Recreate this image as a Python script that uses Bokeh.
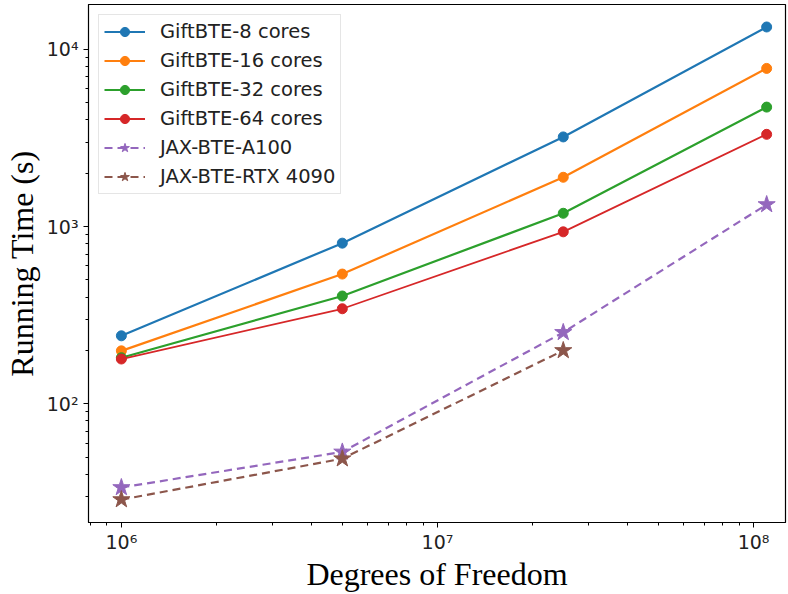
from bokeh.plotting import figure
from bokeh.models import Range1d, Legend, LegendItem, CustomJSTickFormatter, LogTicker
from bokeh.embed import file_html
from bokeh.resources import INLINE

dof = [1e6, 5e6, 2.5e7, 1.1e8]
gift_8 = [242, 807, 3210, 13400]
gift_16 = [199, 540, 1900, 7820]
gift_32 = [182, 406, 1190, 4730]
gift_64 = [179, 344, 935, 3320]
jax_a100 = [33.7, 53.5, 253, 1333]
dof_4090 = [1e6, 5e6, 2.5e7]
jax_4090 = [28.8, 49, 200]

names = ["GiftBTE-8 cores", "GiftBTE-16 cores", "GiftBTE-32 cores", "GiftBTE-64 cores",
         "JAX-BTE-A100", "JAX-BTE-RTX 4090"]
colors = ["#1f77b4", "#ff7f0e", "#2ca02c", "#d62728", "#9467bd", "#8c564b"]

p = figure(x_axis_type="log", y_axis_type="log",
           x_range=Range1d(10 ** 5.896, 10 ** 8.101),
           y_range=Range1d(10 ** 1.330, 10 ** 4.254),
           width=788, height=594,
           min_border_left=88, min_border_right=3, min_border_top=4, min_border_bottom=71,
           output_backend="svg", toolbar_location=None)

p.background_fill_color = "white"
p.border_fill_color = "white"
p.outline_line_color = "black"
p.outline_line_width = 1.2
p.xgrid.visible = False
p.ygrid.visible = False

fmt = CustomJSTickFormatter(code="""
const sup = {'0':'\u2070','1':'\u00b9','2':'\u00b2','3':'\u00b3','4':'\u2074','5':'\u2075','6':'\u2076','7':'\u2077','8':'\u2078','9':'\u2079','-':'\u207b'};
const e = Math.round(Math.log10(tick));
return '10' + String(e).split('').map(c => sup[c]).join('');
""")

for ax in (p.xaxis[0], p.yaxis[0]):
    ax.formatter = fmt
    ax.ticker = LogTicker(desired_num_ticks=3, num_minor_ticks=10)
    ax.major_label_text_font = "DejaVu Sans"
    ax.major_label_text_font_size = "19px"
    ax.major_label_text_color = "#222222"
    ax.axis_line_color = "black"
    ax.major_tick_line_color = "black"
    ax.minor_tick_line_color = "black"
    ax.major_tick_out = 5
    ax.major_tick_in = 0
    ax.minor_tick_out = 3
    ax.minor_tick_in = 0
    ax.axis_label_text_font = "Liberation Serif"
    ax.axis_label_text_font_size = "32px"
    ax.axis_label_text_font_style = "normal"
    ax.axis_label_text_color = "black"

p.xaxis.axis_label = "Degrees of Freedom"
p.yaxis.axis_label = "Running Time (s)"
p.xaxis.major_label_standoff = 3
p.yaxis.major_label_standoff = 5
p.xaxis.axis_label_standoff = 0
p.yaxis.axis_label_standoff = 4

items = []
series = [gift_8, gift_16, gift_32, gift_64]
for i, ys in enumerate(series):
    lw = 2.2 if i < 3 else 1.8
    l = p.line(dof, ys, line_color=colors[i], line_width=lw)
    s = p.scatter(dof, ys, marker="circle", size=10, fill_color=colors[i], line_color=colors[i])
    items.append(LegendItem(label=names[i], renderers=[l, s]))

l = p.line(dof, jax_a100, line_color=colors[4], line_width=2.2, line_dash="8 5")
s = p.scatter(dof, jax_a100, marker="star", size=18, fill_color=colors[4], line_color=colors[4])
items.append(LegendItem(label=names[4], renderers=[l, s]))
l = p.line(dof_4090, jax_4090, line_color=colors[5], line_width=2.2, line_dash="8 5")
s = p.scatter(dof_4090, jax_4090, marker="star", size=18, fill_color=colors[5], line_color=colors[5])
items.append(LegendItem(label=names[5], renderers=[l, s]))

legend = Legend(items=items, location="top_left")
legend.margin = 10
legend.padding = 5
legend.spacing = 6
legend.glyph_width = 41
legend.glyph_height = 23
legend.label_height = 23
legend.label_standoff = 15
legend.label_text_font = "DejaVu Sans"
legend.label_text_font_size = "19.5px"
legend.label_text_color = "#222222"
legend.border_line_color = "#cccccc"
legend.border_line_width = 1
legend.background_fill_alpha = 0.8
p.add_layout(legend)

open("out.html", "w").write(file_html(p, INLINE))
